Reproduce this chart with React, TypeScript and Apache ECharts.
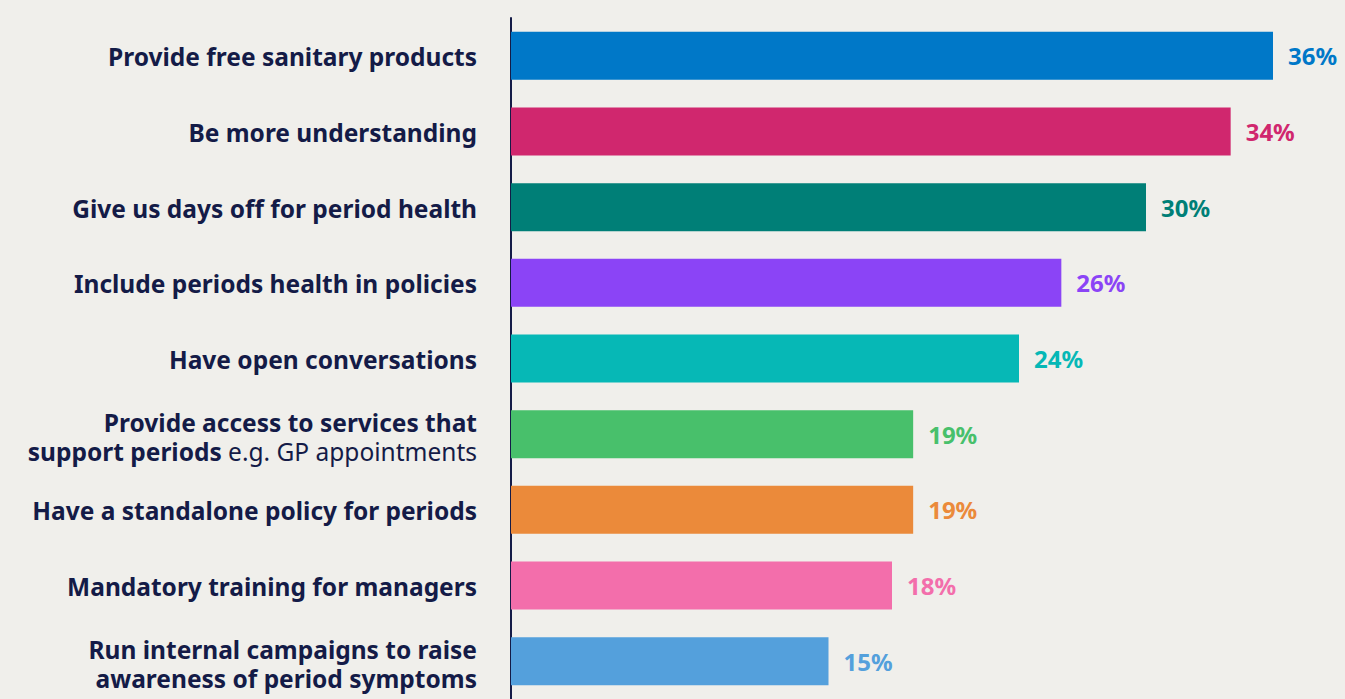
import React, { useEffect, useRef } from "react";
import * as echarts from "echarts";

const categories = [
  "Provide free sanitary products",
  "Be more understanding",
  "Give us days off for period health",
  "Include periods health in policies",
  "Have open conversations",
  "Provide access to services that\nsupport periods e.g. GP appointments",
  "Have a standalone policy for periods",
  "Mandatory training for managers",
  "Run internal campaigns to raise\nawareness of period symptoms",
];
const values = [36, 34, 30, 26, 24, 19, 19, 18, 15];
const colors = [
  "#0078c8",
  "#d0276e",
  "#007f77",
  "#8b44f6",
  "#06b8b6",
  "#48c06b",
  "#eb8a3a",
  "#f36eab",
  "#54a0dc",
];

const FONT = "'Noto Sans', sans-serif";
const NAVY = "#141b47";
const FS = 24.5;

export default function App() {
  const ref = useRef<HTMLDivElement>(null);
  useEffect(() => {
    document.body.style.margin = "0";
    const chart = echarts.init(ref.current!, null, { renderer: "svg" });
    const tok = (weight: string, lh: number) => ({
      fontFamily: FONT,
      fontWeight: weight,
      fontSize: FS,
      color: NAVY,
      lineHeight: lh,
    });
    chart.setOption({
      animation: false,
      backgroundColor: "#f0efeb",
      grid: { left: 511, right: 72, top: 18, height: 686 },
      xAxis: {
        type: "value",
        min: 0,
        max: 36,
        show: false,
      },
      yAxis: {
        type: "category",
        inverse: true,
        data: categories,
        axisLine: { show: true, lineStyle: { color: NAVY, width: 2 } },
        axisTick: { show: false },
        axisLabel: {
          margin: 34,
          padding: [2, 0, 0, 0],
          fontFamily: FONT,
          fontWeight: "bold",
          fontSize: FS,
          color: NAVY,
          formatter: (v: string) => {
            const lines = v.split("\n");
            if (lines.length === 1) return `{b|${v}}`;
            const [l1, l2] = lines;
            if (l2.indexOf(" e.g. ") >= 0) {
              const [b, r] = l2.split(" e.g. ");
              return `{b1|${l1}}\n{b2|${b}}{r2| e.g. ${r}}`;
            }
            return `{b1|${l1}}\n{b2|${l2}}`;
          },
          rich: {
            b: tok("bold", 30),
            b1: tok("bold", 32),
            b2: tok("bold", 25),
            r2: tok("normal", 25),
          },
        },
      },
      series: [
        {
          type: "bar",
          barWidth: 48,
          data: values.map((v, i) => ({
            value: v,
            itemStyle: { color: colors[i] },
            label: { color: colors[i] },
          })),
          label: {
            show: true,
            position: "right",
            distance: 15,
            fontFamily: FONT,
            fontWeight: "bold",
            fontSize: 24,
            formatter: "{c}%",
          },
        },
      ],
    });
    return () => chart.dispose();
  }, []);
  return (
    <div
      ref={ref}
      style={{ position: "absolute", left: 0, top: 0, width: 1345, height: 699 }}
    />
  );
}
